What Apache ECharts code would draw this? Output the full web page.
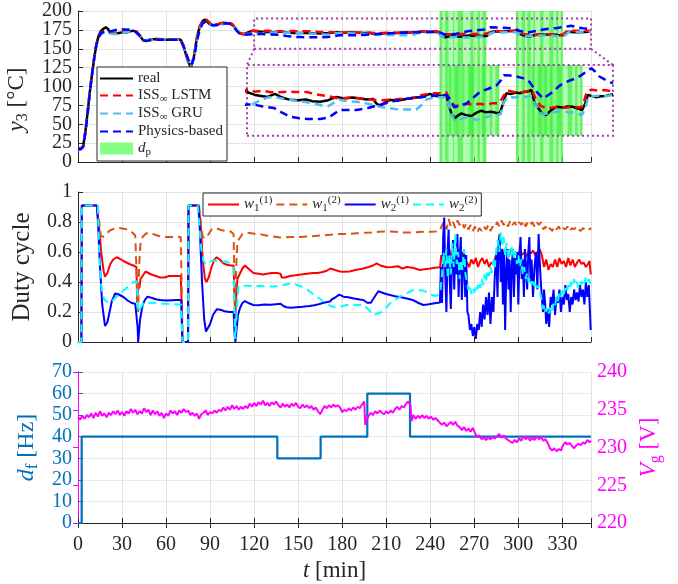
<!DOCTYPE html>
<html><head><meta charset="utf-8">
<script src="https://cdn.jsdelivr.net/npm/echarts/dist/echarts.min.js"></script>
<style>html,body{margin:0;padding:0;background:#fff}#c{width:678px;height:584px}</style>
</head><body><div id="c"></div>
<script>
// ---------------- data ----------------
const xTicks = [0, 30, 60, 90, 120, 150, 180, 210, 240, 270, 300, 330];
const y3TicksA = [0, 50, 100, 150, 200];
const y3TicksB = [25, 75, 125, 175];
const yReal = [[0,18],[2,18],[3.5,21],[5,40],[6.5,65],[8,92],[9.5,115],[11,137],[12.5,155],[14,167],[15.5,173],[17,176],[19,178.5],[20.5,176],[22,171],[25,170],[28,171],[31,172],[34,172],[37.5,174],[40,172],[42,168],[44,162],[46.5,160],[49,162],[53,163],[58,162],[63,162],[67,162.5],[70,162],[71.5,156],[73,146],[75,133],[77,125],[79,140],[81,165],[83,180],[85,187],[86.5,188.5],[88,186],[90,182],[92,181],[95,182],[98,184],[101,184],[104,183],[106,180],[108,175],[110,171],[112.5,169],[115,171],[119,174],[121,173.1],[125,172.4],[129,172.1],[133,171.8],[137.5,172.7],[142,171.6],[147,170.9],[152,170.8],[157,171.0],[161,170.5],[166,170.3],[171,170.8],[176,171.8],[181,171.3],[186,171.6],[191,171.3],[195,171.0],[199,171.2],[201,169.9],[203.4,169.0],[206,169.9],[209.6,170.9],[214,170.6],[218,171.0],[222,171.4],[226,171.6],[230,171.8],[234.7,172.7],[238,172.1],[242,172.1],[245,172.4],[246.8,168.8],[248.5,166.5],[250.3,165.3],[252.5,166.2],[254.5,166.8],[257.6,166.2],[260.7,166.0],[264,167.0],[267,167.6],[270,167.1],[273.3,167.3],[276,167.0],[278.5,166.8],[280.5,169.7],[282.6,172.9],[285,172.7],[288.9,173.1],[291,172.9],[294.1,173.4],[296,173.4],[298.3,173.9],[300.4,169.8],[303.5,167.8],[305.5,166.7],[307.7,166.3],[310,167.5],[314,168.8],[318,168.6],[321,168.9],[324.3,168.8],[327,168.3],[330.2,167.8],[332,169.7],[333.8,172.4],[336,172.1],[339,171.7],[342,172.0],[345,172.1],[347.3,172.4],[349.5,172.6]];
const yLstm = [[0,18],[2,18],[3.5,21],[5,40],[6.5,65],[8,92],[9.5,116],[11,138],[12.5,156],[14,166],[15.5,171],[17,173],[19,174],[21,172],[24,171],[28,172],[32,173],[36,174],[40,172.5],[42,168],[44.5,161],[47,160.5],[50,162.5],[55,163],[60,162.5],[65,162.5],[69,162.5],[71,158],[73,148],[75,135],[77,127],[79,140],[81,163],[83,179],[85,187],[87,189.5],[89,186],[91,182],[94,182],[98,184],[102,185],[105,183],[107,178],[109,173],[111,170],[113,170],[116,172],[120,174],[125,173.4],[130,173.7],[135,173.2],[140,173.2],[145,173.4],[150,173.3],[157.5,173.3],[163,172.6],[170,172.1],[178,171.3],[185,171.6],[192,171.3],[199,170.9],[205,170.8],[212,171.0],[218,171.3],[223,171.3],[230,172.4],[236,172.9],[241,172.9],[245,173.2],[247,170.8],[250,169.1],[254,169.1],[258,169.7],[262,169.4],[266,169.7],[270,169.4],[274,169.9],[278,169.9],[280.5,171.8],[283,173.7],[287,173.4],[291,173.2],[295,173.4],[298.5,174.0],[301,171.3],[304,169.1],[308,168.3],[312,168.6],[316,168.8],[320,168.5],[324,168.8],[328,168.6],[330.5,168.9],[333,173.4],[336,174.0],[340,173.7],[344,173.9],[347,173.7],[349.5,173.4]];
const yGru = [[0,16],[2,17],[3.5,20],[5,38],[6.5,62],[8,90],[9.5,114],[11,136],[12.5,154],[14,164],[15.5,169],[17,171],[19,172],[22,170],[26,169.5],[30,171],[35,172.5],[39,172],[42,167],[45,161],[48,161.5],[52,162],[58,162],[64,162],[69,162],[71,157],[73,147],[75,134],[77,126],[79,138],[81,162],[83,177],[85,184],[87,185],[89,183],[92,180],[96,181],[100,183],[103,183],[106,180],[108,175],[110,171],[112.5,169],[116,170],[120,169.4],[124,169.7],[129,170.9],[133,171.6],[137,171.8],[142,171.3],[147,170.9],[152,170.5],[157.5,170.2],[163,169.7],[167,169.2],[171,169.0],[174,169.9],[178,170.9],[183,170.5],[188.6,170.3],[194,169.9],[199,169.4],[203,168.8],[208,168.5],[213,168.1],[220,168.0],[226,167.9],[229,169.1],[232.6,171.0],[237,171.6],[241,171.7],[245,171.8],[247,168.6],[250,164.6],[254,165.1],[258,165.6],[262,165.1],[264,164.8],[268,165.4],[272,165.9],[276,166.3],[279,166.5],[281,170.2],[283.5,171.8],[287,171.6],[291,171.8],[295,171.8],[298,172.1],[300.5,169.7],[303,167.8],[306,166.5],[310,167.0],[314,167.3],[318,167.5],[322,167.1],[326,167.0],[330,166.3],[332,168.1],[334,171.8],[338,172.1],[342,172.2],[346,172.1],[349.5,172.4]];
const yPhys = [[0,17],[2,17],[3.5,20],[5,38],[6.5,63],[8,91],[9.5,115],[11,137],[12.5,155],[14,165],[15.5,170],[17,172],[19,173],[22,173],[25,174.5],[28.6,175.8],[32,175.5],[36,175],[39,173],[42,167],[45,160.5],[48,161],[52,162],[58,162],[64,162],[69,162],[71,157],[73,148],[75,136],[77,128],[79,137],[81,160],[83,176],[85,184],[87,185.5],[89,184],[92,181],[96,181.5],[100,183.5],[103,183.5],[106,180],[108,174],[110,170],[112.5,168.5],[116,169],[120,169.5],[125,169.4],[130,168.9],[137,168.4],[142,167.0],[147,165.8],[152,165.4],[158,165.1],[165.8,165.1],[170,165.4],[173,166.1],[178,167.8],[183,167.8],[188.6,167.8],[195,168.3],[203,169.4],[210,170.2],[215.6,170.9],[222,171.3],[230,171.8],[236,172.1],[241,172.4],[245,172.4],[247,171.3],[250,168.6],[253,169.1],[257.6,169.8],[262,171.6],[266.3,173.4],[271,174.2],[276.7,175.4],[279,176.7],[281,178.4],[285,178.3],[289,178.0],[293,177.5],[296.3,176.9],[299,175.1],[301.5,173.4],[305.7,171.3],[309,172.4],[312,173.4],[315,174.8],[318,175.9],[322,176.7],[326.5,177.5],[330,178.5],[333,179.6],[336,180.5],[338.5,179.4],[341,178.0],[344,177.2],[347.3,176.4],[349.5,175.9]];
const dpBlocks = [[246,278.5],[298.3,330.5]];
const dpStripes = [[246.6,248.2],[250.1,252.4],[255.5,256.3],[258.6,262.3],[267.3,269.4],[272.1,273.9],[275.7,278],[298.4,300],[302.3,304.6],[306.1,308.4],[310.2,311.4],[314.8,317.1],[321.1,323.9],[325.7,327.3],[328.9,330.2]];
const zoomT = [120, 349.5];
const zoomV = [150, 190];
const insetV = [160, 181.5];

const w11 = [[0,0],[2.3,0],[2.6,0.91],[12.8,0.91],[14.5,0.75],[16,0.58],[17.5,0.47],[18.4,0.435],[20,0.46],[22,0.52],[24,0.55],[26.3,0.565],[28.5,0.555],[31,0.54],[33,0.53],[35,0.52],[37.7,0.51],[39.8,0.50],[40.3,0.26],[41,0.40],[41.8,0.36],[42.6,0.42],[44,0.44],[46,0.47],[48,0.46],[50,0.45],[53,0.44],[56,0.43],[59,0.43],[62,0.44],[65,0.44],[68,0.44],[70,0.44],[70.8,0.2],[71.2,0],[75,0],[75.3,0.91],[82,0.91],[83.5,0.8],[85,0.55],[86.5,0.42],[87.5,0.40],[89,0.43],[91,0.5],[93,0.55],[94.5,0.565],[96.5,0.55],[99,0.525],[101.5,0.515],[104,0.51],[106,0.51],[106.6,0.30],[107.1,0.16],[107.8,0.30],[108.6,0.42],[110,0.45],[112,0.49],[113.8,0.51],[116,0.49],[119.5,0.46],[123,0.455],[126,0.45],[128.6,0.455],[132,0.46],[135.5,0.46],[138,0.455],[138.8,0.43],[141,0.43],[144.5,0.44],[148,0.445],[152,0.45],[156,0.455],[160,0.46],[163,0.46],[166,0.465],[169.5,0.475],[172,0.49],[175,0.48],[178.5,0.47],[181,0.469],[185,0.47],[189,0.48],[194.4,0.49],[198,0.50],[201,0.51],[203.5,0.524],[206,0.51],[210.3,0.498],[214,0.5],[218,0.505],[221,0.49],[224,0.50],[228,0.495],[233,0.48],[236,0.485],[240,0.49],[243,0.495],[246.6,0.498],[247.5,0.58],[249,0.52],[250,0.6],[251.5,0.55],[253,0.62],[254.5,0.53],[256,0.6],[257.5,0.57],[259,0.62],[260.5,0.54],[262,0.6],[263.5,0.55],[265,0.53],[266.5,0.5],[268,0.55],[269.5,0.52],[271,0.56],[272.5,0.5],[274,0.54],[275.5,0.56],[277,0.52],[278.5,0.55],[280,0.5],[281.5,0.53],[283,0.52],[284.5,0.57],[286,0.6],[287.5,0.56],[289,0.62],[290.5,0.58],[292,0.6],[293.5,0.57],[295,0.62],[296.5,0.58],[298,0.6],[299.5,0.57],[301,0.61],[302.5,0.58],[304,0.6],[305.5,0.57],[307,0.6],[308.5,0.59],[310,0.61],[311.5,0.58],[313,0.6],[314.5,0.62],[316,0.58],[317.5,0.5],[319,0.55],[320.5,0.48],[322,0.52],[323.5,0.5],[325,0.55],[326.5,0.5],[328,0.56],[329.5,0.52],[331,0.54],[332.5,0.5],[334,0.56],[335.5,0.51],[337,0.55],[338.5,0.5],[340,0.53],[341.5,0.55],[343,0.52],[344.5,0.53],[346,0.5],[347.5,0.52],[348.5,0.54],[349.3,0.45]];
const w12 = [[0,0],[2.3,0],[2.6,0.91],[13.5,0.91],[14.5,0.8],[15.5,0.71],[17,0.70],[19,0.72],[22,0.745],[25,0.757],[28,0.76],[31,0.755],[34,0.75],[37,0.73],[39,0.71],[40.2,0.70],[40.5,0.3],[41,0.2],[41.6,0.5],[42.5,0.65],[44,0.70],[46,0.72],[48,0.73],[51,0.72],[54,0.71],[58,0.70],[62,0.70],[66,0.70],[70,0.70],[70.6,0.4],[71.2,0],[75,0],[75.3,0.91],[82.5,0.91],[83.5,0.8],[85,0.7],[87,0.69],[89,0.72],[91,0.75],[92.5,0.76],[95,0.755],[98,0.745],[101,0.74],[104,0.737],[106,0.72],[106.6,0.4],[107.1,0.24],[107.8,0.5],[108.6,0.67],[110,0.69],[112,0.72],[114.5,0.73],[118,0.725],[121,0.72],[124,0.72],[128,0.71],[132,0.705],[138,0.696],[145,0.70],[152,0.70],[159,0.705],[166,0.71],[172,0.715],[177,0.72],[183,0.72],[190,0.725],[199.5,0.73],[205,0.735],[210,0.737],[216,0.735],[222,0.73],[228,0.73],[235,0.735],[240,0.735],[244,0.737],[246.5,0.74],[248,0.78],[249.5,0.8],[251,0.75],[252.5,0.82],[254,0.77],[255.5,0.8],[257,0.76],[258.5,0.81],[260,0.78],[261.5,0.8],[263,0.76],[264.5,0.79],[266,0.75],[267.5,0.78],[269,0.74],[270.5,0.77],[272,0.73],[273.5,0.76],[275,0.74],[276.5,0.77],[278,0.75],[279.5,0.78],[281,0.74],[282.5,0.77],[284,0.76],[285.5,0.8],[287,0.77],[288.5,0.81],[290,0.78],[291.5,0.8],[293,0.77],[294.5,0.81],[296,0.78],[297.5,0.8],[299,0.77],[300.5,0.8],[302,0.78],[303.5,0.81],[305,0.77],[306.5,0.8],[308,0.78],[309.5,0.8],[311,0.77],[312.5,0.8],[314,0.78],[315.5,0.8],[317,0.75],[318.5,0.77],[320,0.74],[321.5,0.76],[323,0.74],[324.5,0.77],[326,0.75],[327.5,0.77],[329,0.74],[330.5,0.76],[332,0.75],[333.5,0.77],[335,0.74],[336.5,0.76],[338,0.75],[339.5,0.77],[341,0.75],[342.5,0.74],[344,0.76],[345.5,0.75],[347,0.76],[348.5,0.75],[349.5,0.76]];
const w21 = [[0,0],[2.3,0],[2.6,0.91],[12.8,0.91],[13.6,0.8],[15,0.5],[16.5,0.25],[18.4,0.107],[20,0.13],[21.5,0.2],[23,0.27],[25.3,0.324],[27,0.32],[29,0.31],[31,0.3],[34,0.275],[36.6,0.26],[39,0.255],[40.2,0.25],[40.6,0.1],[41,0],[41.8,0],[42.3,0.15],[43.9,0.24],[45.5,0.28],[47.3,0.302],[50,0.295],[53,0.285],[56,0.28],[60,0.276],[64,0.278],[68,0.28],[70.3,0.28],[70.8,0.1],[71.2,0],[75,0],[75.3,0.91],[82,0.91],[83,0.75],[84.5,0.4],[86,0.15],[87.2,0.07],[88.5,0.08],[90,0.12],[92,0.18],[94.5,0.218],[97,0.215],[100,0.205],[103,0.2],[106,0.2],[106.7,0.05],[107.2,0],[108.3,0],[109,0.18],[110.5,0.23],[112,0.26],[113.8,0.273],[116,0.26],[119.5,0.247],[123,0.245],[127,0.25],[131,0.248],[135,0.252],[138,0.255],[139,0.265],[140,0.24],[142,0.232],[145,0.229],[149,0.232],[153,0.235],[157.6,0.24],[161,0.245],[164,0.252],[166.7,0.26],[169,0.265],[171.7,0.27],[173,0.285],[175,0.295],[178,0.316],[180.8,0.302],[184,0.298],[188,0.29],[192,0.283],[194.4,0.28],[197,0.262],[199.5,0.262],[202,0.3],[204.6,0.338],[207,0.33],[210,0.32],[212.6,0.313],[216,0.305],[220,0.298],[224,0.29],[228,0.28],[232,0.26],[235.3,0.247],[238,0.25],[241,0.255],[244,0.26],[246.6,0.264],[247.2,0.5],[248,0.26],[248.8,0.7],[249.5,0.83],[250.2,0.45],[251,0.2],[251.8,0.6],[252.5,0.75],[253.3,0.4],[254,0.22],[254.8,0.55],[255.5,0.68],[256.3,0.35],[257,0.6],[257.8,0.45],[258.5,0.72],[259.3,0.3],[260,0.55],[260.8,0.7],[261.5,0.28],[262.3,0.5],[263,0.62],[263.8,0.3],[264.5,0.58],[265.3,0.2],[266,0.18],[267,0.08],[268,0.12],[269,0.04],[270,0.1],[271,0.02],[272,0.12],[273,0.08],[274,0.2],[275,0.1],[276,0.25],[277,0.15],[278,0.3],[279,0.18],[280,0.33],[281,0.12],[282,0.3],[283,0.2],[284,0.45],[285,0.58],[285.8,0.3],[286.5,0.66],[287.3,0.72],[288,0.4],[288.8,0.62],[289.5,0.25],[290.3,0.6],[291,0.08],[291.8,0.48],[292.5,0.62],[293.3,0.35],[294,0.55],[294.8,0.2],[295.5,0.5],[296.3,0.62],[297,0.3],[297.8,0.56],[298.5,0.45],[299.3,0.6],[300,0.25],[300.8,0.58],[301.5,0.7],[302.3,0.42],[303,0.55],[303.8,0.3],[304.5,0.62],[305.3,0.5],[306,0.35],[306.8,0.6],[307.5,0.7],[308.3,0.4],[309,0.55],[310,0.3],[311,0.5],[312,0.6],[313,0.35],[313.8,0.72],[314.5,0.55],[315.3,0.4],[316,0.3],[316.8,0.2],[317.5,0.35],[318.3,0.25],[319,0.12],[320,0.22],[321,0.1],[322,0.3],[323,0.25],[324,0.35],[325,0.18],[326,0.3],[327,0.26],[328,0.35],[329,0.2],[330,0.3],[331,0.25],[332,0.38],[333,0.28],[334,0.32],[335,0.2],[336,0.3],[337,0.25],[338,0.35],[339,0.28],[340,0.33],[341,0.27],[342,0.38],[343,0.3],[344,0.35],[345,0.25],[346,0.4],[347,0.3],[348,0.38],[348.8,0.2],[349.3,0.08]];
const w22 = [[0,0],[2.3,0],[2.6,0.91],[13.5,0.91],[14.5,0.6],[15.5,0.4],[16.5,0.33],[18,0.28],[20.7,0.262],[23,0.27],[25,0.29],[28,0.32],[30.5,0.34],[33.4,0.364],[36,0.385],[38,0.40],[40,0.405],[40.5,0.3],[41,0.2],[42,0.19],[43.5,0.24],[45,0.264],[48,0.262],[52.2,0.26],[56,0.255],[60,0.255],[64,0.252],[68,0.25],[70.3,0.25],[70.8,0.1],[71.2,0],[75,0],[75.3,0.91],[81.5,0.91],[82.5,0.8],[84,0.62],[85.5,0.54],[87,0.52],[89,0.53],[92,0.545],[95,0.54],[98,0.535],[101.3,0.538],[104,0.52],[106,0.5],[106.6,0.2],[107.1,0.02],[108.2,0.02],[108.8,0.3],[109.3,0.369],[112,0.375],[116,0.375],[120,0.372],[124,0.373],[128,0.372],[132,0.37],[136,0.372],[140,0.38],[145,0.391],[148,0.385],[152,0.37],[156,0.351],[160,0.32],[164,0.293],[168,0.265],[172,0.24],[175,0.232],[179,0.236],[183,0.247],[188,0.245],[194.4,0.25],[198,0.215],[201.2,0.18],[204,0.19],[207,0.2],[210,0.23],[212.6,0.258],[216,0.28],[219,0.3],[221.7,0.313],[225,0.33],[228.5,0.347],[232,0.345],[235,0.343],[238,0.33],[241,0.315],[244,0.307],[246,0.32],[247,0.347],[248,0.45],[249,0.6],[250,0.5],[251,0.62],[252,0.42],[253,0.58],[254,0.45],[255,0.66],[256,0.5],[257,0.72],[258,0.52],[259,0.6],[260,0.42],[261,0.55],[262,0.48],[263,0.62],[264,0.45],[265,0.4],[266,0.35],[267,0.38],[268,0.32],[269,0.36],[270,0.33],[271,0.38],[272,0.35],[273,0.4],[274,0.36],[275,0.42],[276,0.38],[277,0.45],[278,0.4],[279,0.48],[280,0.44],[281,0.5],[282,0.46],[283,0.55],[284,0.5],[285,0.62],[286,0.68],[287,0.6],[288,0.73],[289,0.65],[290,0.7],[291,0.58],[292,0.66],[293,0.55],[294,0.62],[295,0.58],[296,0.64],[297,0.55],[298,0.6],[299,0.52],[300,0.58],[301,0.5],[302,0.55],[303,0.45],[304,0.5],[305,0.42],[306,0.46],[307,0.4],[308,0.43],[309,0.38],[310,0.42],[311,0.37],[312,0.4],[313,0.36],[314,0.38],[315,0.32],[316,0.28],[317,0.22],[318,0.25],[319,0.2],[320,0.23],[321,0.19],[322,0.24],[323,0.21],[324,0.26],[325,0.24],[326,0.3],[327,0.27],[328,0.33],[329,0.3],[330,0.35],[331,0.32],[332,0.36],[333,0.33],[334,0.38],[335,0.35],[336,0.4],[337,0.37],[338,0.42],[339,0.38],[340,0.4],[341,0.36],[342,0.4],[343,0.38],[344,0.42],[345,0.39],[346,0.43],[347,0.4],[348,0.42],[349.5,0.38]];

const df = [[0,0],[2.5,0],[2.5,40],[135.8,40],[135.8,30],[165.3,30],[165.3,40],[197.1,40],[197.1,60],[226.2,60],[226.2,40],[349.5,40]];
const vg = [[0,234.0],[1.5,233.7],[3,234.2],[4.5,233.8],[6,234.3],[7.5,234.0],[9,234.5],[10.5,233.9],[12,234.6],[13.5,234.1],[15,234.8],[16.5,234.2],[18,234.5],[19.5,234.0],[21,234.6],[22.5,234.3],[24,234.8],[25.5,234.4],[27,234.9],[28.5,234.3],[30,234.7],[31.5,234.2],[33,234.8],[34.5,234.5],[36,235.1],[37.5,234.6],[39,235.0],[40.5,234.4],[42,234.8],[43.5,234.5],[45,235.2],[46.5,234.7],[48,235.0],[49.5,234.3],[51,234.9],[52.5,234.4],[54,234.8],[55.5,234.2],[57,234.6],[58.5,233.9],[60,234.5],[61.5,234.2],[63,234.9],[64.5,234.5],[66,234.8],[67.5,234.3],[69,234.9],[70.5,234.6],[72,235.1],[73.5,234.7],[75,234.9],[76.5,234.3],[78,234.6],[79.5,234.2],[81,234.5],[82.5,233.8],[84,234.4],[85.5,234.6],[87,234.9],[88.5,234.3],[90,234.7],[91.5,234.5],[93,234.9],[94.5,234.6],[96,235.0],[97.5,234.8],[99,235.3],[100.5,234.9],[102,235.4],[103.5,235.0],[105,235.6],[106.5,235.1],[108,235.5],[109.5,235.0],[111,235.4],[112.5,235.1],[114,235.5],[115.5,235.2],[117,235.8],[118.5,235.4],[120,235.9],[121.5,235.5],[123,236.0],[124.5,235.7],[126,236.2],[127.5,235.6],[129,235.9],[130.5,235.5],[132,236.0],[133.5,235.7],[135,236.1],[136.5,235.6],[138,235.3],[139.5,235.8],[141,235.4],[142.5,235.7],[144,235.3],[145.5,235.8],[147,235.5],[148.5,235.9],[150,235.4],[151.5,235.2],[153,235.7],[154.5,235.3],[156,235.6],[157.5,235.2],[159,235.5],[160.5,235.0],[162,235.3],[163.5,234.8],[165,234.4],[166.5,235.0],[168,235.5],[169.5,235.2],[171,235.6],[172.5,235.3],[174,235.7],[175.5,235.4],[177,235.6],[178.5,235.3],[180,234.7],[181.5,235.0],[183,234.8],[184.5,235.2],[186,234.9],[187.5,235.3],[189,235.0],[190.5,235.4],[192,235.2],[193.5,235.7],[195,236.1],[195.7,233.0],[196.5,233.6],[198,234.2],[199.5,234.6],[201,234.3],[202.5,234.8],[204,234.5],[205.5,234.9],[207,234.6],[208.5,234.4],[210,234.8],[211.5,234.5],[213,234.9],[214.5,234.6],[216,235.1],[217.5,235.4],[219,235.0],[220.5,235.5],[222,235.3],[223.5,235.8],[225,236.1],[226.5,235.6],[227.3,233.5],[228.5,234.3],[230,233.8],[231.5,234.2],[233,233.9],[234.5,234.3],[236,233.9],[237.5,234.2],[239,233.8],[240.5,234.1],[242,233.7],[243.5,233.9],[245,233.6],[246.5,233.3],[248,233.0],[249.5,233.3],[251,232.8],[252.5,233.1],[254,233.4],[255.5,233.0],[257,233.4],[258.5,232.9],[260,232.7],[261.5,232.3],[263,232.7],[264.5,232.2],[266,232.5],[267.5,232.1],[269,232.6],[270.5,231.9],[272,231.4],[273.5,231.6],[275,231.1],[276.5,231.3],[278,231.0],[279.5,231.3],[281,231.1],[282.5,231.4],[284,231.2],[285.5,231.5],[287,231.8],[288.5,231.3],[290,231.6],[291.5,231.2],[293,231.0],[294.5,230.8],[296,230.6],[297.5,231.0],[299,230.7],[300.5,231.2],[302,230.9],[303.5,231.5],[305,231.1],[306.5,231.4],[308,230.9],[309.5,231.3],[311,231.0],[312.5,231.5],[314,231.1],[315.5,231.4],[317,230.9],[318.5,231.1],[320,230.6],[321.5,229.9],[323,229.6],[324.5,229.9],[326,229.5],[327.5,229.8],[329,229.6],[330.5,230.3],[332,230.7],[333.5,230.4],[335,230.6],[336.5,230.2],[338,229.9],[339.5,230.3],[341,230.5],[342.5,230.3],[344,230.7],[345.5,230.5],[347,231.0],[348.5,230.7],[349.5,230.9]];

// ---------------- style ----------------
const F = 'Liberation Serif';
const INK = '#262626';
const GRID = '#e2e2e2';
const PURPLE = '#a23ca2';
const C = {real:'#000000', lstm:'#FF0000', gru:'#4DBEEE', phys:'#0000FF', dp:'#66FF66',
           w11:'#FF0000', w12:'#D95319', w21:'#0000FF', w22:'#00FFFF', df:'#0072BD', vg:'#FF00FF'};
function rich(size, color){
  const ss = Math.round(size*0.7);
  return {
    i:{fontFamily:F, fontSize:size, fontStyle:'italic', color:color},
    r:{fontFamily:F, fontSize:size, color:color},
    s:{fontFamily:F, fontSize:ss, color:color, padding:[Math.round(size*0.5),0,0,0]},
    p:{fontFamily:F, fontSize:ss, color:color, padding:[0,0,Math.round(size*0.55),0]}
  };
}
const LEG = {real:'real', lstm:'ISS{s|∞} LSTM', gru:'ISS{s|∞} GRU', phys:'Physics-based', dp:'{i|d}{s|p}',
             w11:'{i|w}{s|1}{p|(1)}', w12:'{i|w}{s|1}{p|(2)}', w21:'{i|w}{s|2}{p|(1)}', w22:'{i|w}{s|2}{p|(2)}'};

const tick = {inside:true, length:5, lineStyle:{color:INK}};
function xAx(grid, labels){
  return {type:'value', gridIndex:grid, min:0, max:349.5, interval:30,
    axisLine:{show:true, onZero:false, lineStyle:{color:INK, width:1}},
    axisTick:tick, axisLabel:{show:labels, fontFamily:F, fontSize:20, color:INK, margin:12,
      customValues: xTicks},
    splitLine:{show:true, lineStyle:{color:GRID}}};
}
const yLab = (color) => ({fontFamily:F, fontSize:20, color:color, margin:6,
  showMinLabel:true, showMaxLabel:true, hideOverlap:false});

const chart = echarts.init(document.getElementById('c'), null, {renderer:'canvas'});
const lineS = (name, data, color, dash, xi, yi, w) => ({
  type:'line', name:name, data:data, xAxisIndex:xi, yAxisIndex:yi, showSymbol:false, symbol:'none',
  lineStyle:{color:color, width:w, type:dash ? [8,5] : 'solid'}, itemStyle:{color:color},
  z:3, animation:false, clip:true});

const dpArea = () => ({silent:true, data:
  dpBlocks.map(b => [{xAxis:b[0], itemStyle:{color:'rgba(110,250,110,0.55)'}}, {xAxis:b[1]}]).concat(
  dpStripes.map(b => [{xAxis:b[0], itemStyle:{color:'rgba(40,235,40,0.55)'}}, {xAxis:b[1]}]))});

const noSym = {opacity:0};
const option = {
  animation:false,
  backgroundColor:'#ffffff',
  grid:[
    {left:78, top:11, width:513, height:151, outerBoundsMode:'none'},
    {left:247, top:65, width:366, height:70.7, outerBoundsMode:'none'},
    {left:78, top:192, width:513, height:150, outerBoundsMode:'none'},
    {left:78, top:372, width:513, height:151, outerBoundsMode:'none'}
  ],
  xAxis:[
    xAx(0,false),
    {type:'value', gridIndex:1, min:zoomT[0], max:zoomT[1], show:false},
    xAx(2,false),
    Object.assign(xAx(3,true), {name:'{i|t}{r| [min]}', nameLocation:'middle', nameGap:36,
      nameTextStyle:{fontFamily:F, fontSize:23, color:INK, rich:rich(23, INK)}}),
    {type:'value', gridIndex:3, position:'top', min:0, max:349.5, interval:30,
      axisLine:{show:true, lineStyle:{color:INK}}, axisTick:tick, axisLabel:{show:false}, splitLine:{show:false}}
  ],
  yAxis:[
    {type:'value', gridIndex:0, min:0, max:200, interval:25,
      axisLine:{show:true, lineStyle:{color:INK}}, axisTick:tick,
      axisLabel:Object.assign(yLab(INK), {customValues:y3TicksA}),
      splitLine:{lineStyle:{color:GRID}},
      name:'{i|y}{s|3}{r| [°C]}', nameLocation:'middle', nameRotate:90, nameGap:33,
      nameTextStyle:{fontFamily:F, fontSize:23, color:INK, rich:rich(23, INK), padding:[0,26,0,0]}},
    {type:'value', gridIndex:1, min:insetV[0], max:insetV[1], show:false},
    {type:'value', gridIndex:2, min:0, max:1, interval:0.2,
      axisLine:{show:true, lineStyle:{color:INK}}, axisTick:tick,
      axisLabel:Object.assign(yLab(INK), {formatter: v => (v === 0 || v === 1) ? String(v) : v.toFixed(1)}),
      splitLine:{lineStyle:{color:GRID}},
      name:'Duty cycle', nameLocation:'middle', nameRotate:90, nameGap:43,
      nameTextStyle:{fontFamily:F, fontSize:25, color:INK}},
    {type:'value', gridIndex:3, min:0, max:70, interval:10, position:'left',
      axisLine:{show:true, lineStyle:{color:C.df}}, axisTick:{inside:true, length:5, lineStyle:{color:C.df}},
      axisLabel:yLab(C.df),
      splitLine:{lineStyle:{color:'rgba(0,114,189,0.13)'}},
      name:'{i|d}{s|f}{r| [Hz]}', nameLocation:'middle', nameRotate:90, nameGap:35,
      nameTextStyle:{fontFamily:F, fontSize:24, color:C.df, rich:rich(24, C.df)}},
    {type:'value', gridIndex:3, min:220, max:240, interval:5, position:'right',
      axisLine:{show:true, lineStyle:{color:C.vg}}, axisTick:{inside:true, length:5, lineStyle:{color:C.vg}},
      axisLabel:yLab(C.vg),
      splitLine:{show:false},
      name:'{i|V}{s|g}{r| [V]}', nameLocation:'middle', nameRotate:90, nameGap:44,
      nameTextStyle:{fontFamily:F, fontSize:23, color:C.vg, rich:rich(23, C.vg)}},
    // companion label-only axis for the in-between tick labels of the top panel
    {type:'value', gridIndex:0, min:0, max:200, interval:25, position:'left',
      axisLine:{show:false}, axisTick:{show:false}, splitLine:{show:false},
      axisLabel:Object.assign(yLab(INK), {customValues:y3TicksB})}
  ],
  legend:[
    {data:[{name:'real', itemStyle:noSym},{name:'lstm', itemStyle:noSym},{name:'gru', itemStyle:noSym},
           {name:'phys', itemStyle:noSym},{name:'dp', icon:'rect'}],
     orient:'vertical', left:97, top:67, padding:[3,4,3,2], itemGap:0, itemWidth:33, itemHeight:12,
     backgroundColor:'#ffffff', borderColor:INK, borderWidth:1, selectedMode:false,
     textStyle:{fontFamily:F, fontSize:15, color:INK, lineHeight:17, rich:rich(15, INK)},
     formatter: n => LEG[n]},
    {data:[{name:'w11', itemStyle:noSym},{name:'w12', itemStyle:noSym},{name:'w21', itemStyle:noSym},{name:'w22', itemStyle:noSym}],
     orient:'horizontal', left:203, top:193, padding:[2,4,2,4],
     itemGap:3, itemWidth:31, itemHeight:12, backgroundColor:'#ffffff', borderColor:INK, borderWidth:1,
     selectedMode:false,
     textStyle:{fontFamily:F, fontSize:15, color:INK, rich:rich(15, INK)},
     formatter: n => LEG[n]}
  ],
  series:[
    lineS('real', yReal, C.real, false, 0, 0, 2.5),
    lineS('lstm', yLstm, C.lstm, true, 0, 0, 2.5),
    lineS('gru', yGru, C.gru, true, 0, 0, 2.5),
    lineS('phys', yPhys, C.phys, true, 0, 0, 2.5),
    {type:'scatter', name:'dp', data:[], xAxisIndex:0, yAxisIndex:0, itemStyle:{color:C.dp}, z:1,
      markArea:dpArea()},
    {type:'line', name:'frame0', data:[], xAxisIndex:0, yAxisIndex:0, z:5,
      markArea:{silent:true, data:[[{xAxis:zoomT[0], yAxis:zoomV[0],
        itemStyle:{color:'rgba(0,0,0,0)', borderColor:PURPLE, borderWidth:2, borderType:[2,3]}},
        {xAxis:zoomT[1], yAxis:zoomV[1]}]]}},
    lineS('real', yReal, C.real, false, 1, 1, 2.5),
    lineS('lstm', yLstm, C.lstm, true, 1, 1, 2.5),
    lineS('gru', yGru, C.gru, true, 1, 1, 2.5),
    lineS('phys', yPhys, C.phys, true, 1, 1, 2.5),
    {type:'scatter', name:'dp', data:[], xAxisIndex:1, yAxisIndex:1, itemStyle:{color:C.dp}, z:1,
      markArea:dpArea()},
    {type:'line', name:'frame1', data:[], xAxisIndex:1, yAxisIndex:1, z:5,
      markArea:{silent:true, data:[[{xAxis:zoomT[0], yAxis:insetV[0],
        itemStyle:{color:'rgba(0,0,0,0)', borderColor:PURPLE, borderWidth:2, borderType:[2,3]}},
        {xAxis:zoomT[1], yAxis:insetV[1]}]]}},
    lineS('w11', w11, C.w11, false, 2, 2, 2),
    lineS('w12', w12, C.w12, true, 2, 2, 2),
    lineS('w21', w21, C.w21, false, 2, 2, 2),
    lineS('w22', w22, C.w22, true, 2, 2, 2),
    lineS('df', df, C.df, false, 3, 3, 2.2),
    lineS('vg', vg, C.vg, false, 3, 4, 2)
  ]
};
chart.setOption(option);

// connectors between zoom rectangle and inset, positioned through the axes' own scales
const a1 = chart.convertToPixel({gridIndex:0}, [zoomT[0], zoomV[0]]);
const b1 = chart.convertToPixel({gridIndex:1}, [zoomT[0], insetV[1]]);
const a2 = chart.convertToPixel({gridIndex:0}, [zoomT[1], zoomV[0]]);
const b2 = chart.convertToPixel({gridIndex:1}, [zoomT[1], insetV[1]]);
chart.setOption({graphic:[
  {type:'line', z:10, shape:{x1:a1[0], y1:a1[1], x2:b1[0], y2:b1[1]}, style:{stroke:PURPLE, lineWidth:2, lineDash:[2,3]}},
  {type:'line', z:10, shape:{x1:a2[0], y1:a2[1], x2:b2[0], y2:b2[1]}, style:{stroke:PURPLE, lineWidth:2, lineDash:[2,3]}}
]});
</script></body></html>
